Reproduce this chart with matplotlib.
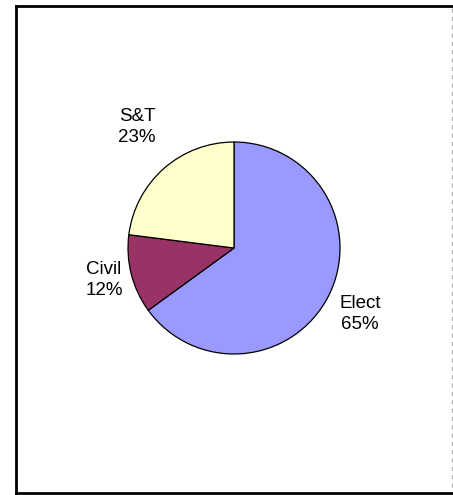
import matplotlib.pyplot as plt
from matplotlib.lines import Line2D

plt.rcParams['font.family'] = ['Liberation Sans', 'DejaVu Sans']

# slice data (clockwise from 12 o'clock)
categories = ['Elect', 'Civil', 'S&T']
shares = [65, 12, 23]
colors = ['#9999FF', '#993366', '#FFFFCC']

# label placement in pixel space (x, y from top)
label_pos = [(360, 314), (104, 280), (137, 127)]

W, H = 453, 495
fig = plt.figure(figsize=(W / 100, H / 100), dpi=100)
ax = fig.add_axes([0, 0, 1, 1])
ax.set_xlim(0, W)
ax.set_ylim(0, H)
ax.set_aspect('equal')
ax.axis('off')

wedges, _ = ax.pie(shares, colors=colors, startangle=90, counterclock=False,
                   center=(234, H - 248), radius=106,
                   wedgeprops={'edgecolor': 'black', 'linewidth': 0.9})
ax.set_xlim(0, W)
ax.set_ylim(0, H)

for name, val, (x, y) in zip(categories, shares, label_pos):
    ax.text(x, H - y, '%s\n%d%%' % (name, val), ha='center', va='center',
            fontsize=13.5, linespacing=1.38, color='black')

# outer frame
fig.add_artist(Line2D([16 / W, 16 / W], [1 - 6 / H, 1 - 493 / H], color='black', lw=2))
fig.add_artist(Line2D([16 / W, 1], [1 - 6 / H, 1 - 6 / H], color='black', lw=2))
fig.add_artist(Line2D([16 / W, 1], [1 - 493 / H, 1 - 493 / H], color='black', lw=2))
fig.add_artist(Line2D([452 / W, 452 / W], [1 - 8 / H, 1 - 491 / H], color='#b0b0b0',
                      lw=1, linestyle=(0, (3, 3))))

fig.savefig('out.png', dpi=100)
